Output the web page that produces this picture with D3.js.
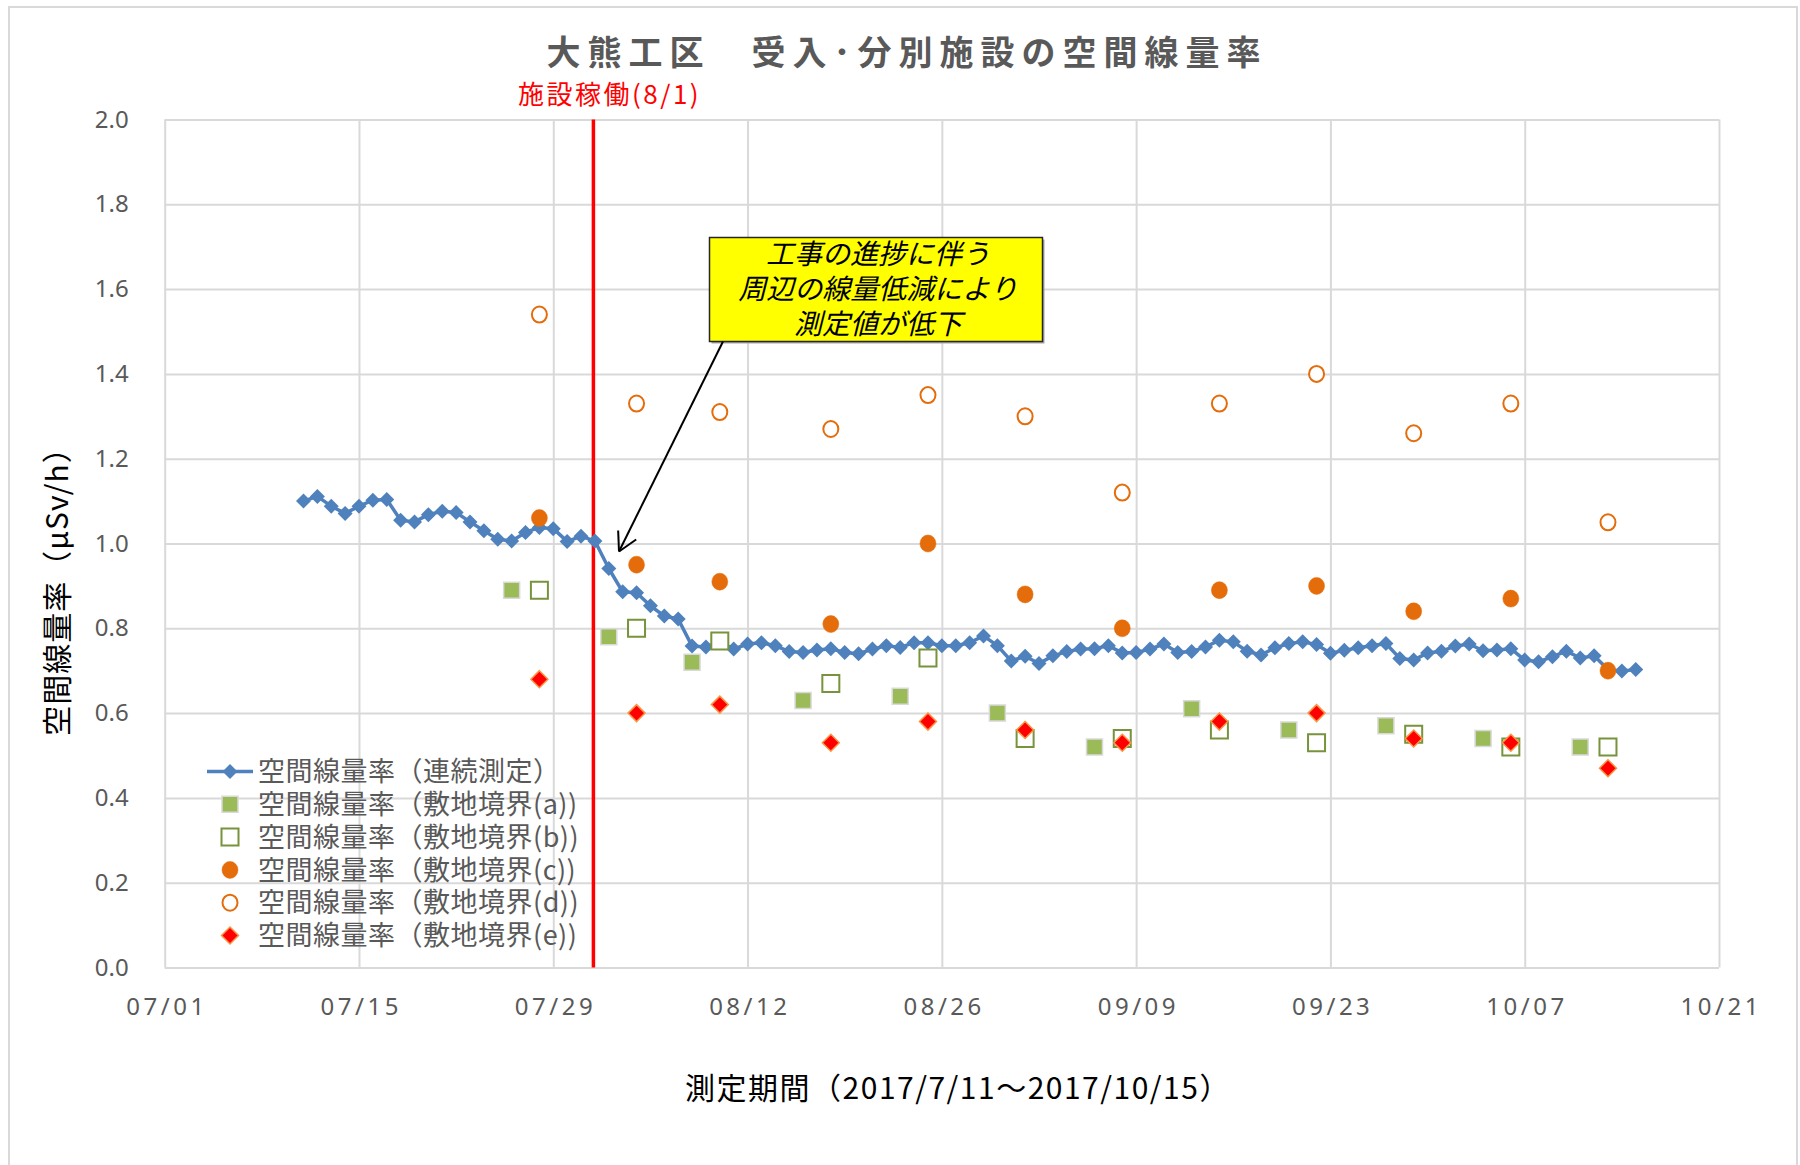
<!DOCTYPE html>
<html><head><meta charset="utf-8">
<script src="https://cdn.jsdelivr.net/npm/d3@7"></script>
<style>
html,body{margin:0;padding:0;background:#fff;}
svg{display:block;}
</style></head>
<body>
<svg id="chart" width="1800" height="1165"></svg>
<script>
// ---------------- data ----------------
const chartTitle = "大熊工区　受入･分別施設の空間線量率";
const xAxisTitle = "測定期間（2017/7/11～2017/10/15）";
const yAxisTitle = "空間線量率（μSv/h）";
const markerLabel = "施設稼働(8/1)";
const markerDate = "2017-08-01";
const noteLines = ["工事の進捗に伴う", "周辺の線量低減により", "測定値が低下"];

const xTickLabels = ["2017-07-01","2017-07-15","2017-07-29","2017-08-12","2017-08-26","2017-09-09","2017-09-23","2017-10-07","2017-10-21"];
const yTickValues = [0,0.2,0.4,0.6,0.8,1.0,1.2,1.4,1.6,1.8,2.0];

const seriesNames = [
  "空間線量率（連続測定）",
  "空間線量率（敷地境界(a))",
  "空間線量率（敷地境界(b))",
  "空間線量率（敷地境界(c))",
  "空間線量率（敷地境界(d))",
  "空間線量率（敷地境界(e))"
];

// continuous daily measurement 2017-07-11 .. 2017-10-15
const contStart = "2017-07-11";
const contEnd = "2017-10-15";
const contValues = [
  1.100,1.111,1.088,1.071,1.088,1.102,1.104,1.055,1.051,1.068,1.076,1.073,1.051,1.030,1.010,1.006,1.026,1.038,1.035,1.005,1.017,
  1.006,0.941,0.886,0.884,0.853,0.829,0.822,0.758,0.756,0.768,0.751,0.763,0.766,0.759,0.745,0.743,0.749,0.752,0.743,0.740,0.751,0.759,0.755,0.766,0.766,0.759,0.759,0.766,0.782,0.759,0.723,
  0.734,0.717,0.735,0.745,0.751,0.752,0.759,0.742,0.743,0.751,0.763,0.743,0.745,0.756,0.772,0.768,0.746,0.737,0.754,0.764,0.768,0.762,0.741,0.748,0.754,0.759,0.764,0.729,0.725,0.742,
  0.746,0.758,0.763,0.747,0.749,0.752,0.725,0.721,0.733,0.746,0.730,0.735,0.703,0.699,0.703
];

const datesA = ["2017-07-26","2017-08-02","2017-08-08","2017-08-16","2017-08-23","2017-08-30","2017-09-06","2017-09-13","2017-09-20","2017-09-27","2017-10-04","2017-10-11"];
const valuesA = [0.89,0.78,0.72,0.63,0.64,0.60,0.52,0.61,0.56,0.57,0.54,0.52];

const datesBCDE = ["2017-07-28","2017-08-04","2017-08-10","2017-08-18","2017-08-25","2017-09-01","2017-09-08","2017-09-15","2017-09-22","2017-09-29","2017-10-06","2017-10-13"];
const valuesB = [0.89,0.80,0.77,0.67,0.73,0.54,0.54,0.56,0.53,0.55,0.52,0.52];
const valuesC = [1.06,0.95,0.91,0.81,1.00,0.88,0.80,0.89,0.90,0.84,0.87,0.70];
const valuesD = [1.54,1.33,1.31,1.27,1.35,1.30,1.12,1.33,1.40,1.26,1.33,1.05];
const valuesE = [0.68,0.60,0.62,0.53,0.58,0.56,0.53,0.58,0.60,0.54,0.53,0.47];

// ---------------- layout ----------------
const parse = d3.utcParse("%Y-%m-%d");
const svg = d3.select("#chart");
const plot = {left:164.7, right:1719, top:119.5, bottom:967.5};

const x = d3.scaleUtc().domain([parse(xTickLabels[0]), parse(xTickLabels[xTickLabels.length-1])]).range([plot.left, plot.right]);
const y = d3.scaleLinear().domain([0,2]).range([plot.bottom, plot.top]);

const CJK = "'Noto Sans CJK JP','Noto Sans',sans-serif";
const LAT = "'Noto Sans','Open Sans',sans-serif";
const gray = "#595959";

svg.append("rect").attr("width",1800).attr("height",1165).attr("fill","#fff");
svg.append("rect").attr("x",9).attr("y",7).attr("width",1788).attr("height",1170)
  .attr("fill","none").attr("stroke","#d9d9d9").attr("stroke-width",2);

// gridlines
const xTicks = xTickLabels.map(parse);
const gx = svg.append("g").attr("transform",`translate(0,${plot.bottom})`)
  .call(d3.axisBottom(x).tickValues(xTicks).tickSize(-(plot.bottom-plot.top)).tickFormat(""));
gx.select(".domain").remove();
gx.selectAll("line").attr("stroke","#d9d9d9").attr("stroke-width",2);

const gy = svg.append("g").attr("transform",`translate(${plot.left},0)`)
  .call(d3.axisLeft(y).tickValues(yTickValues).tickSize(-(plot.right-plot.left)).tickFormat(""));
gy.select(".domain").remove();
gy.selectAll("line").attr("stroke","#d9d9d9").attr("stroke-width",2);

// tick labels
const xl = svg.append("g").attr("transform",`translate(0,${plot.bottom+27})`)
  .call(d3.axisBottom(x).tickValues(xTicks).tickSize(0).tickFormat(d3.utcFormat("%m/%d")));
xl.select(".domain").remove();
xl.selectAll("text").attr("font-family",LAT).attr("font-size",24).attr("fill",gray)
  .attr("letter-spacing",3.5).attr("dx",1.75).attr("dy","0.71em");

const yl = svg.append("g").attr("transform",`translate(${plot.left-33},0)`)
  .call(d3.axisLeft(y).tickValues(yTickValues).tickSize(0).tickFormat(d3.format(".1f")));
yl.select(".domain").remove();
yl.selectAll("text").attr("font-family",LAT).attr("font-size",24).attr("fill",gray);

// red vertical line
svg.append("line").attr("x1",x(parse(markerDate))-1.5).attr("x2",x(parse(markerDate))-1.5)
  .attr("y1",plot.top).attr("y2",plot.bottom).attr("stroke","#ff0000").attr("stroke-width",3.5);
svg.append("text").attr("x",518).attr("y",104).attr("font-family",CJK).attr("font-size",26)
  .attr("letter-spacing",2.5).attr("fill","#ff0000").text(markerLabel);

// ---------------- series ----------------
const contDates = d3.utcDay.range(parse(contStart), d3.utcDay.offset(parse(contEnd),1));
const contData = contDates.map((d,i)=>({d, v:contValues[i]}));
const blue = "#4f81bd";

const diamond = (s)=>`M0,${-s}L${s},0L0,${s}L${-s},0Z`;
const square = (s)=>`M${-s},${-s}H${s}V${s}H${-s}Z`;

function drawCont(g, data){
  g.append("path").datum(data)
    .attr("d", d3.line().x(p=>x(p.d)).y(p=>y(p.v)))
    .attr("fill","none").attr("stroke",blue).attr("stroke-width",3.5).attr("stroke-linejoin","round");
  g.selectAll("path.m").data(data).join("path").attr("class","m")
    .attr("transform",p=>`translate(${x(p.d)},${y(p.v)})`)
    .attr("d",diamond(7.5)).attr("fill",blue);
}
drawCont(svg.append("g"), contData);

const styles = {
  a: {shape:"square", size:8, fill:"#9bbb59", stroke:"#d9d9d9", sw:1.5},
  b: {shape:"square", size:8.5, fill:"#fff", stroke:"#77933c", sw:2},
  c: {shape:"circle", size:8.5, fill:"#e46c0a", stroke:"#e46c0a", sw:0.5},
  d: {shape:"circle", size:8, fill:"#fff", stroke:"#e46c0a", sw:2},
  e: {shape:"diamond", size:8.5, fill:"#ff0000", stroke:"#f79646", sw:1.5}
};
function marker(g, st, cx, cy){
  if(st.shape==="circle"){
    g.append("ellipse").attr("cx",cx).attr("cy",cy).attr("rx",st.size-0.5).attr("ry",st.size)
      .attr("fill",st.fill).attr("stroke",st.stroke).attr("stroke-width",st.sw);
  } else {
    g.append("path").attr("transform",`translate(${cx},${cy})`)
      .attr("d", st.shape==="square"?square(st.size):diamond(st.size))
      .attr("fill",st.fill).attr("stroke",st.stroke).attr("stroke-width",st.sw);
  }
}
const scatterSeries = [
  {key:"a", dates:datesA, vals:valuesA},
  {key:"b", dates:datesBCDE, vals:valuesB},
  {key:"c", dates:datesBCDE, vals:valuesC},
  {key:"d", dates:datesBCDE, vals:valuesD},
  {key:"e", dates:datesBCDE, vals:valuesE}
];
scatterSeries.forEach(s=>{
  const g = svg.append("g");
  s.dates.forEach((d,i)=>marker(g, styles[s.key], x(parse(d)), y(s.vals[i])));
});

// ---------------- annotation ----------------
const note = svg.append("g");
const bx=709.5, by=237.5, bw=333, bh=104;
note.append("rect").attr("x",bx+2).attr("y",by+2).attr("width",bw).attr("height",bh).attr("fill","#a6a6a6");
note.append("rect").attr("x",bx).attr("y",by).attr("width",bw).attr("height",bh)
  .attr("fill","#ffff00").attr("stroke","#262626").attr("stroke-width",1.5);
noteLines.forEach((t,i)=>{
  note.append("text").attr("x",bx+bw/2+2).attr("y",254+i*35).attr("dy","0.36em").attr("text-anchor","middle")
    .attr("font-family",CJK).attr("font-size",28).attr("font-style","italic").attr("fill","#000").text(t);
});
// arrow
const ax0=723, ay0=341.5, ax1=619, ay1=551.5;
note.append("line").attr("x1",ax0).attr("y1",ay0).attr("x2",ax1).attr("y2",ay1).attr("stroke","#000").attr("stroke-width",2);
const ang = Math.atan2(ay0-ay1, ax0-ax1);
[0.5,-0.5].forEach(da=>{
  note.append("line").attr("x1",ax1).attr("y1",ay1)
    .attr("x2",ax1+21*Math.cos(ang+da)).attr("y2",ay1+21*Math.sin(ang+da))
    .attr("stroke","#000").attr("stroke-width",2);
});

// ---------------- titles ----------------
svg.append("text").attr("x",907).attr("y",65).attr("text-anchor","middle")
  .attr("font-family",CJK).attr("font-size",34).attr("font-weight","bold").attr("letter-spacing",7)
  .attr("fill",gray).text(chartTitle);
svg.append("text").attr("x",958).attr("y",1099).attr("text-anchor","middle")
  .attr("font-family",CJK).attr("font-size",30).attr("letter-spacing",1.5).attr("fill","#000").text(xAxisTitle);
svg.append("text").attr("transform","translate(68,584) rotate(-90)").attr("text-anchor","middle")
  .attr("font-family",CJK).attr("font-size",30).attr("letter-spacing",1).attr("fill","#000").text(yAxisTitle);

// ---------------- legend ----------------
const legend = svg.append("g");
const lgY0 = 771.5, lgDY = 32.8, lgX = 230;
seriesNames.forEach((name,i)=>{
  const cy = lgY0 + i*lgDY;
  if(i===0){
    legend.append("line").attr("x1",lgX-23).attr("x2",lgX+23).attr("y1",cy).attr("y2",cy)
      .attr("stroke",blue).attr("stroke-width",3.5);
    legend.append("path").attr("transform",`translate(${lgX},${cy})`).attr("d",diamond(7.5)).attr("fill",blue);
  } else {
    marker(legend, styles["abcde"[i-1]], lgX, cy);
  }
  legend.append("text").attr("x",258).attr("y",cy).attr("dy","0.36em")
    .attr("font-family",CJK).attr("font-size",27).attr("letter-spacing",0.5).attr("fill",gray).text(name);
});
</script>
</body></html>
